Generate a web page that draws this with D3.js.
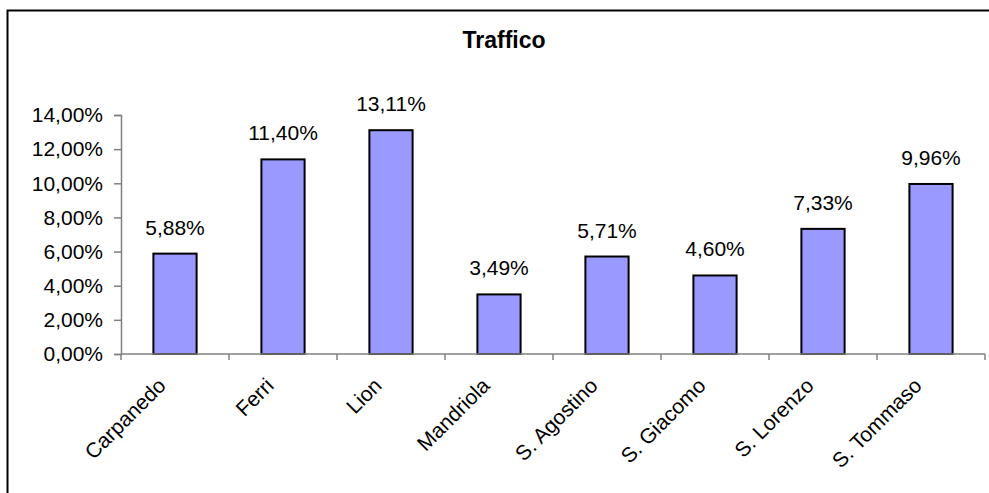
<!DOCTYPE html>
<html>
<head>
<meta charset="utf-8">
<script src="https://cdn.jsdelivr.net/npm/d3@7"></script>
<style>
  html, body { margin: 0; padding: 0; background: #fff; }
  svg { display: block; }
  text { font-family: Arial, "Liberation Sans", sans-serif; fill: #000; }
</style>
</head>
<body>
<svg id="chart" width="989" height="493"></svg>
<script>
// Share of traffic per zone (percent)
const categories = ["Carpanedo", "Ferri", "Lion", "Mandriola", "S. Agostino", "S. Giacomo", "S. Lorenzo", "S. Tommaso"];
const values = [5.88, 11.40, 13.11, 3.49, 5.71, 4.60, 7.33, 9.96];
const yTicks = [0, 2, 4, 6, 8, 10, 12, 14];
const title = "Traffico";

const fmt = v => v.toFixed(2).replace(".", ",") + "%";

const svg = d3.select("#chart");

// outer frame
svg.append("rect")
  .attr("x", 7.5).attr("y", 10.5)
  .attr("width", 1000).attr("height", 500)
  .attr("fill", "#fff").attr("stroke", "#000").attr("stroke-width", 2);

const plot = { left: 121, right: 985, top: 115, bottom: 354 };

const x = d3.scaleBand().domain(categories)
  .range([plot.left, plot.right]).paddingInner(0.6).paddingOuter(0.3);
const xb = d3.scaleBand().domain(categories).range([plot.left, plot.right]);
const y = d3.scaleLinear().domain([0, 14]).range([plot.bottom, plot.top]);

// title
svg.append("text")
  .attr("x", 504).attr("y", 48)
  .attr("text-anchor", "middle")
  .style("font-size", "23px").style("font-weight", "bold")
  .text(title);

// y axis
const yAxis = svg.append("g")
  .attr("transform", `translate(${plot.left},0)`)
  .call(d3.axisLeft(y).tickValues(yTicks).tickSize(7).tickPadding(11).tickFormat(fmt));
yAxis.select(".domain").attr("stroke", "#808080").attr("stroke-width", 1.5);
yAxis.selectAll(".tick line").attr("stroke", "#808080").attr("stroke-width", 1.5);
yAxis.selectAll(".tick text")
  .style("font-size", "21px").style("font-family", "Arial, 'Liberation Sans', sans-serif")
  .attr("fill", "#000");

// bars
svg.append("g").selectAll("rect")
  .data(values)
  .join("rect")
  .attr("x", (d, i) => x(categories[i]))
  .attr("y", d => y(d))
  .attr("width", x.bandwidth())
  .attr("height", d => y(0) - y(d))
  .attr("fill", "#9999FF")
  .attr("stroke", "#000")
  .attr("stroke-width", 2);

// x axis line and boundary ticks
const xAxis = svg.append("g");
xAxis.append("line")
  .attr("x1", plot.left).attr("x2", plot.right)
  .attr("y1", y(0)).attr("y2", y(0))
  .attr("stroke", "#808080").attr("stroke-width", 1.5);
const bounds = categories.map(c => xb(c)).concat([plot.right]);
xAxis.selectAll("line.tk")
  .data(bounds)
  .join("line")
  .attr("class", "tk")
  .attr("x1", d => d).attr("x2", d => d)
  .attr("y1", y(0)).attr("y2", y(0) + 6)
  .attr("stroke", "#808080").attr("stroke-width", 1.5);

// rotated category labels
xAxis.selectAll("text.cat")
  .data(categories)
  .join("text")
  .attr("class", "cat")
  .attr("text-anchor", "end")
  .style("font-size", "21px")
  .attr("transform", d => `translate(${xb(d) + xb.bandwidth() / 2 - 8},${y(0) + 33}) rotate(-45)`)
  .text(d => d);

// value labels
svg.append("g").selectAll("text")
  .data(values)
  .join("text")
  .attr("x", (d, i) => x(categories[i]) + x.bandwidth() / 2)
  .attr("y", d => y(d) - 19)
  .attr("text-anchor", "middle")
  .style("font-size", "21px")
  .text(d => fmt(d));
</script>
</body>
</html>
